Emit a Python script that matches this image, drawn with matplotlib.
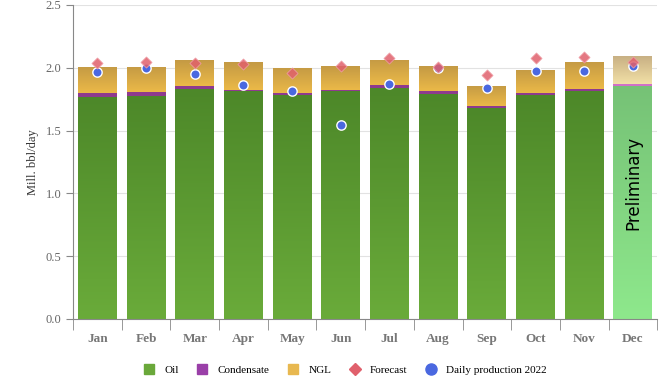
import matplotlib.pyplot as plt
import numpy as np
from matplotlib.colors import LinearSegmentedColormap
from matplotlib.lines import Line2D

months = ["Jan", "Feb", "Mar", "Apr", "May", "Jun", "Jul", "Aug", "Sep", "Oct", "Nov", "Dec"]
oil = [1.770, 1.778, 1.831, 1.813, 1.783, 1.815, 1.842, 1.794, 1.680, 1.781, 1.813, 1.855]
condensate = [0.027, 0.027, 0.026, 0.013, 0.014, 0.011, 0.018, 0.024, 0.016, 0.016, 0.018, 0.018]
ngl = [0.207, 0.204, 0.205, 0.218, 0.204, 0.188, 0.202, 0.199, 0.162, 0.185, 0.215, 0.221]
forecast = [2.036, 2.046, 2.041, 2.030, 1.956, 2.017, 2.081, 2.004, 1.943, 2.081, 2.083, 2.044]
daily_2022 = [1.964, 2.001, 1.950, 1.865, 1.818, 1.545, 1.871, 2.000, 1.839, 1.975, 1.975, 2.014]

plt.rcParams["font.family"] = ["Liberation Serif", "DejaVu Serif"]

fig = plt.figure(figsize=(6.7, 3.77), dpi=100)
ax = fig.add_axes([0.109, 0.154, 0.872, 0.833])

x = np.arange(len(months))
oil = np.array(oil)
condensate = np.array(condensate)
ngl = np.array(ngl)
w = 0.8


def gradient_fill(ax, bar, top_col, bot_col):
    cmap = LinearSegmentedColormap.from_list("g", [bot_col, top_col])
    x0, y0 = bar.get_x(), bar.get_y()
    x1, y1 = x0 + bar.get_width(), y0 + bar.get_height()
    img = ax.imshow(np.linspace(0, 1, 100).reshape(-1, 1), cmap=cmap, aspect="auto",
                    extent=[x0, x1, y0, y1], origin="lower", zorder=bar.get_zorder())
    img.set_clip_path(bar)
    bar.set_facecolor("none")


is_prelim = x == len(months) - 1
oil_bars = ax.bar(x, oil, w, color="#5c9a32", zorder=2)
cond_bars = ax.bar(x, condensate, w, bottom=oil,
                   color=["#d070c8" if p else "#8e3a8e" for p in is_prelim], zorder=2)
ngl_bars = ax.bar(x, ngl, w, bottom=oil + condensate, color="#ddb048", zorder=2)

for i, (ob, nb) in enumerate(zip(oil_bars, ngl_bars)):
    if is_prelim[i]:
        gradient_fill(ax, ob, "#76c276", "#8ee88c")
        gradient_fill(ax, nb, "#c8b084", "#f2e0a6")
    else:
        gradient_fill(ax, ob, "#4d8829", "#6aab3a")
        gradient_fill(ax, nb, "#c49a44", "#ebb948")

ax.scatter(x, daily_2022, marker="o", s=45, color="#4a68e0", edgecolors="white",
           linewidths=1.0, zorder=4)
ax.scatter(x, forecast, marker="D", s=32, color="#e0606c", edgecolors="#f0a0a8",
           linewidths=0.6, alpha=0.85, zorder=5)

ax.text(x[-1], 1.08, "Preliminary", rotation=90, ha="center", va="center",
        fontsize=12, family="DejaVu Sans", color="black", zorder=6)

ax.set_xlim(-0.5, len(months) - 0.5)
ax.set_ylim(0, 2.5)
ax.set_yticks(np.arange(0, 2.51, 0.5))
ax.set_yticklabels([f"{v:.1f}" for v in np.arange(0, 2.51, 0.5)])
ax.set_xticks(x)
ax.set_xticklabels(months, fontweight="bold")
ax.set_xticks(np.arange(-0.5, len(months)), minor=True)
ax.tick_params(axis="x", which="major", length=0, pad=10, labelsize=9.5, colors="#777777")
ax.tick_params(axis="x", which="minor", length=8, color="#888888")
ax.tick_params(axis="y", length=5, color="#888888", labelsize=9, labelcolor="#666666")
ax.grid(axis="y", color="#e2e2e2", lw=0.8, zorder=0)
ax.set_axisbelow(True)
for s in ["top", "right"]:
    ax.spines[s].set_visible(False)
ax.spines["left"].set_color("#888888")
ax.spines["bottom"].set_color("#888888")
ax.set_ylabel("Mill. bbl/day", fontsize=9, color="#333333", labelpad=5)

handles = [
    Line2D([], [], ls="", marker="s", ms=7, color="#6aa83a"),
    Line2D([], [], ls="", marker="s", ms=7, color="#9a3fa8"),
    Line2D([], [], ls="", marker="s", ms=7, color="#e8b850"),
    Line2D([], [], ls="", marker="D", ms=6, color="#e0606c"),
    Line2D([], [], ls="", marker="o", ms=8, color="#4a68e0"),
]
labels = ["Oil", "Condensate", "NGL", "Forecast", "Daily production 2022"]
fig.legend(handles, labels, loc="center", bbox_to_anchor=(0.515, 0.018), ncol=5,
           frameon=False, fontsize=8, handlelength=1.0, handletextpad=0.9,
           columnspacing=1.6)

fig.savefig("out.png", dpi=100)
